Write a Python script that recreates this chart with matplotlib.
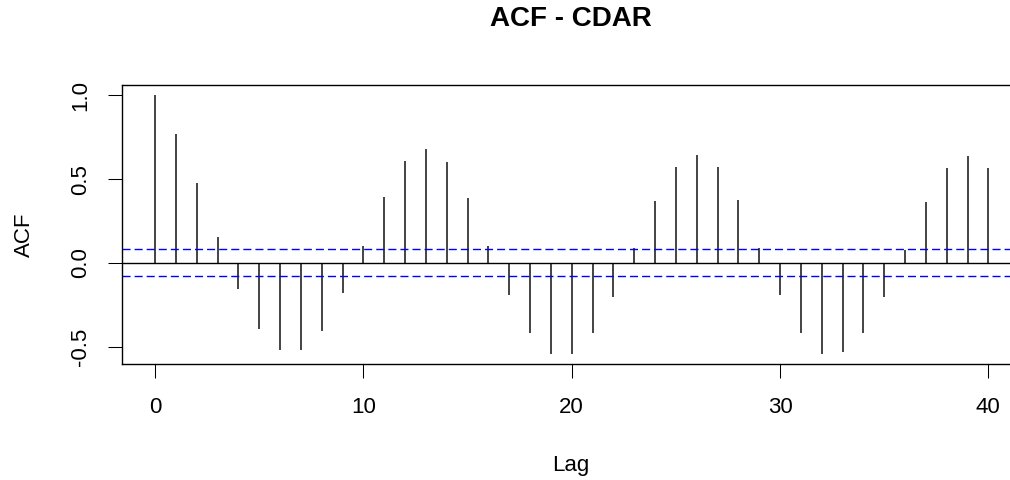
import numpy as np
import matplotlib
matplotlib.use("Agg")
import matplotlib.pyplot as plt

plt.rcParams["font.family"] = ["Liberation Sans", "DejaVu Sans"]
plt.rcParams["lines.scale_dashes"] = False

# ACF values, lag 0..40
lags = np.arange(0, 41)
acf = [1.000, 0.770, 0.474, 0.155, -0.159, -0.397, -0.522, -0.522, -0.407, -0.183,
       0.101, 0.395, 0.611, 0.681, 0.601, 0.387, 0.101, -0.192, -0.417, -0.542,
       -0.542, -0.417, -0.202, 0.091, 0.367, 0.575, 0.645, 0.575, 0.377, 0.091,
       -0.192, -0.417, -0.542, -0.532, -0.417, -0.202, 0.079, 0.361, 0.565, 0.637,
       0.565]
conf = 0.080   # white-noise band +/-

xticks = [0, 10, 20, 30, 40]
yticks = [-0.5, 0.0, 0.5, 1.0]

W, H = 1010, 480
fig = plt.figure(figsize=(W / 100, H / 100), dpi=100)

# plot box: left 122px, top 85px, bottom 364px, right runs past the image edge
ax = fig.add_axes([121.7 / W, 1 - 364 / H, 900 / W, (364 - 85) / H])
ax.set_xlim(-1.6, 41.6)
ax.set_ylim(-0.604, 1.062)

ax.vlines(lags, 0, acf, color="#111111", lw=1.1)
ax.axhline(0, color="black", lw=1.0)
for c in (conf, -conf):
    ax.axhline(c, color="#0000FF", lw=1.0, dashes=(5.8, 2.9))

for s in ax.spines.values():
    s.set_linewidth(1.0)
    s.set_color("black")

ax.set_xticks(xticks)
ax.set_xticklabels([str(t) for t in xticks])
ax.set_yticks(yticks)
ax.set_yticklabels(["%.1f" % t for t in yticks], rotation=90, va="center")
ax.tick_params(axis="both", length=10, width=0.75, labelsize=16, color="black")
ax.tick_params(axis="x", pad=14)
ax.tick_params(axis="y", pad=12)

fig.text(571 / W, 1 - 19 / H, "ACF - CDAR", ha="center", va="center",
         fontsize=20, fontweight="bold")
fig.text(571 / W, 1 - 465 / H, "Lag", ha="center", va="center", fontsize=16)
fig.text(24 / W, 1 - 235 / H, "ACF", ha="center", va="center", fontsize=16,
         rotation=90)

fig.savefig("out.png", dpi=100)
